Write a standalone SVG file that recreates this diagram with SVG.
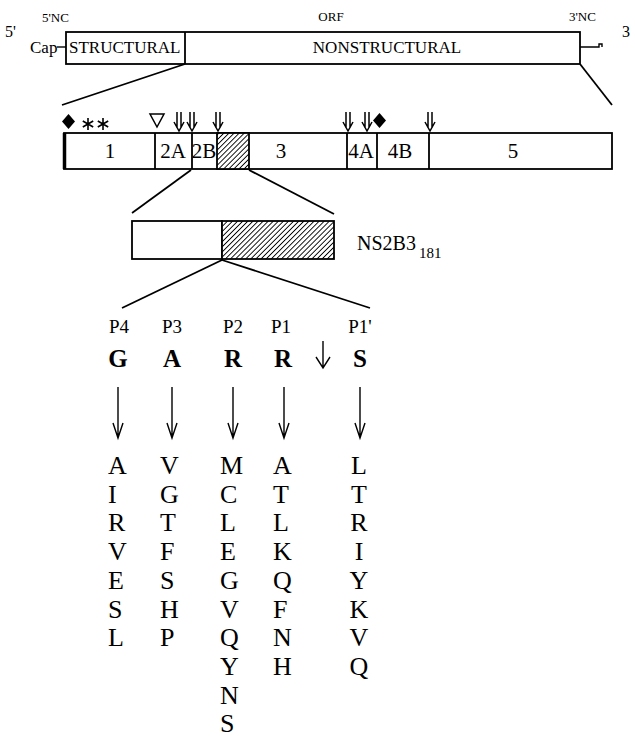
<svg xmlns="http://www.w3.org/2000/svg" width="635" height="740" viewBox="0 0 635 740">
<style>
text{font-family:"Liberation Serif","Times New Roman",serif;fill:#000}
.box{fill:#fff;stroke:#000;stroke-width:1.8}
.ln{stroke:#000;stroke-width:1.8;fill:none}
.thin{stroke:#000;stroke-width:1.4;fill:none}
.sm{font-size:13px}
.md{font-size:17px}
.seg{font-size:21px;text-anchor:middle}
.p{font-size:19px;text-anchor:middle}
.b{font-size:25px;font-weight:bold;text-anchor:middle}
.col{font-size:26px}
</style>
<defs>
<pattern id="hatch" width="3.6" height="3.6" patternUnits="userSpaceOnUse" patternTransform="rotate(45)">
<rect width="3.6" height="3.6" fill="#fff"/>
<line x1="0" y1="0" x2="0" y2="3.6" stroke="#000" stroke-width="1.8"/>
</pattern>
<path id="dbl" d="M-2,0 V16 M2,0 V16 M-5,10 L0,19 L5,10" stroke="#000" stroke-width="1.5" fill="none"/>
<path id="star" d="M0,-6 V6 M-5.2,-3 L5.2,3 M-5.2,3 L5.2,-3" stroke="#000" stroke-width="1.6" fill="none"/>
</defs>

<g id="genome">
<text x="5" y="37" style="font-size:16px">5'</text>
<text x="42" y="22" class="sm">5'NC</text>
<text x="331" y="21" class="sm" text-anchor="middle">ORF</text>
<text x="569" y="21" class="sm">3'NC</text>
<text x="622" y="37" style="font-size:16px">3</text>
<text x="30" y="53" class="md">Cap</text>
<line x1="57" y1="47" x2="66" y2="47" class="thin"/>
<rect x="66" y="32" width="514" height="32" class="box"/>
<line x1="185" y1="32" x2="185" y2="64" class="ln"/>
<text x="69" y="53" class="md">STRUCTURAL</text>
<text x="387" y="53" class="md" text-anchor="middle">NONSTRUCTURAL</text>
<path d="M580,47 H599 V44 H602 V47" class="thin"/>
</g>

<g id="polyprotein">
<rect x="64" y="133" width="548" height="36" class="box"/>
<rect x="217" y="133" width="32" height="36" fill="url(#hatch)" stroke="#000" stroke-width="1.8"/>
<line x1="64.5" y1="133" x2="64.5" y2="169" stroke="#000" stroke-width="3.5"/>
<line x1="155" y1="133" x2="155" y2="169" class="ln"/>
<line x1="192" y1="133" x2="192" y2="169" class="ln"/>
<line x1="347" y1="133" x2="347" y2="169" class="ln"/>
<line x1="377" y1="133" x2="377" y2="169" class="ln"/>
<line x1="429" y1="133" x2="429" y2="169" class="ln"/>
<text x="110" y="158" class="seg">1</text>
<text x="173" y="158" class="seg">2A</text>
<text x="204" y="158" class="seg">2B</text>
<text x="281" y="158" class="seg">3</text>
<text x="361" y="158" class="seg">4A</text>
<text x="400" y="158" class="seg">4B</text>
<text x="513" y="158" class="seg">5</text>
</g>

<g id="site-markers">
<polygon points="68.5,114 75,121.5 68.5,129 62,121.5" fill="#000"/>
<polygon points="379.5,113 386,120.5 379.5,128 373,120.5" fill="#000"/>
<use href="#star" x="88" y="124"/>
<use href="#star" x="103" y="124"/>
<polygon points="150,114 164,114 157,127" fill="none" stroke="#000" stroke-width="1.5"/>
<use href="#dbl" x="179" y="112"/>
<use href="#dbl" x="192" y="112"/>
<use href="#dbl" x="218" y="112"/>
<use href="#dbl" x="348" y="112"/>
<use href="#dbl" x="367" y="112"/>
<use href="#dbl" x="430" y="112"/>
</g>

<g id="ns2b3">
<rect x="132" y="221" width="90" height="38" class="box"/>
<rect x="222" y="221" width="112" height="38" fill="url(#hatch)" stroke="#000" stroke-width="1.8"/>
<text x="357" y="250" style="font-size:20px">NS2B3<tspan dx="3" dy="8" style="font-size:15px">181</tspan></text>
</g>

<g id="connectors">
<line x1="185" y1="64" x2="62" y2="105" class="ln"/>
<line x1="580" y1="64" x2="612" y2="105" class="ln"/>
<line x1="191" y1="170" x2="132" y2="213" class="ln"/>
<line x1="249" y1="170" x2="334" y2="214" class="ln"/>
<line x1="222" y1="260" x2="122" y2="308" class="ln"/>
<line x1="222" y1="260" x2="370" y2="308" class="ln"/>
</g>

<g id="cleavage-site">
<text x="119" y="333" class="p">P4</text>
<text x="172" y="333" class="p">P3</text>
<text x="233" y="333" class="p">P2</text>
<text x="281" y="333" class="p">P1</text>
<text x="360" y="333" class="p">P1'</text>
<text x="118" y="367" class="b">G</text>
<text x="172" y="367" class="b">A</text>
<text x="233" y="367" class="b">R</text>
<text x="283" y="367" class="b">R</text>
<text x="360" y="367" class="b">S</text>
<path d="M323,341 V367 M316,357 L323,368 L330,357" class="thin"/>
</g>

<g id="substitution-arrows" class="thin">
<path d="M118,387 V437 M113,423 L118,438 L123,423"/>
<path d="M172,387 V437 M167,423 L172,438 L177,423"/>
<path d="M233,387 V437 M228,423 L233,438 L238,423"/>
<path d="M284,387 V437 M279,423 L284,438 L289,423"/>
<path d="M360,387 V437 M355,423 L360,438 L365,423"/>
</g>

<g id="substitutions" class="col">
<text x="108" y="474">A</text><text x="108" y="502.7">I</text><text x="108" y="531.4">R</text><text x="108" y="560.1">V</text><text x="108" y="588.8">E</text><text x="108" y="617.5">S</text><text x="108" y="646.2">L</text>
<text x="160" y="474">V</text><text x="160" y="502.7">G</text><text x="160" y="531.4">T</text><text x="160" y="560.1">F</text><text x="160" y="588.8">S</text><text x="160" y="617.5">H</text><text x="160" y="646.2">P</text>
<text x="220" y="474">M</text><text x="220" y="502.7">C</text><text x="220" y="531.4">L</text><text x="220" y="560.1">E</text><text x="220" y="588.8">G</text><text x="220" y="617.5">V</text><text x="220" y="646.2">Q</text><text x="220" y="674.9">Y</text><text x="220" y="703.6">N</text><text x="220" y="732.3">S</text>
<text x="273" y="474">A</text><text x="273" y="502.7">T</text><text x="273" y="531.4">L</text><text x="273" y="560.1">K</text><text x="273" y="588.8">Q</text><text x="273" y="617.5">F</text><text x="273" y="646.2">N</text><text x="273" y="674.9">H</text>
<g text-anchor="middle"><text x="359" y="474">L</text><text x="359" y="502.7">T</text><text x="359" y="531.4">R</text><text x="359" y="560.1">I</text><text x="359" y="588.8">Y</text><text x="359" y="617.5">K</text><text x="359" y="646.2">V</text><text x="359" y="674.9">Q</text></g>
</g>
</svg>
